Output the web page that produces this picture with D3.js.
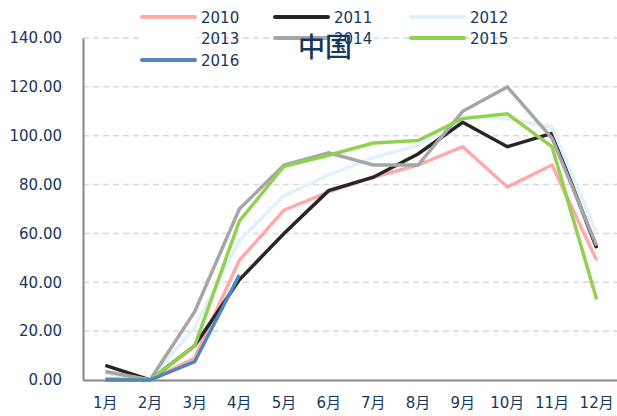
<!DOCTYPE html>
<html>
<head>
<meta charset="utf-8">
<script src="https://cdn.jsdelivr.net/npm/d3@7.9.0/dist/d3.min.js"></script>
<style>
  body { margin: 0; background: #fff; }
  text { font-family: "DejaVu Sans", "Noto Sans CJK SC", sans-serif; fill: #17375e; }
</style>
</head>
<body>
<svg id="chart" width="617" height="416"></svg>
<script>
// categories and series
const months = ['1月', '2月', '3月', '4月', '5月', '6月', '7月', '8月', '9月', '10月', '11月', '12月'];
const yTicks = [0, 20, 40, 60, 80, 100, 120, 140];

const s2010 = [3, 0, 9, 49, 69.5, 77, 83, 88, 95.5, 79, 88, 49];
const s2011 = [6, 0, 14, 41, 60, 77.5, 83, 92.5, 105.5, 95.5, 101, 54];
const s2012 = [3, 0, 21.5, 57, 75.5, 84, 91, 96, 108, 107, 103.5, 60];
const s2013 = [];
const s2014 = [3.5, 0, 28, 70, 88, 93, 88, 88, 110, 120, 99, 55];
const s2015 = [0.5, 0, 14, 65, 87.5, 92, 97, 98, 107, 109, 95.5, 33];
const s2016 = [0, 0, 7.5, 43];

const series = [
  { name: '2010', values: s2010, color: '#ffaaaa' },
  { name: '2011', values: s2011, color: '#262626' },
  { name: '2012', values: s2012, color: '#dff1fc' },
  { name: '2013', values: s2013, color: '#ffffff' },
  { name: '2014', values: s2014, color: '#a6a6a6' },
  { name: '2015', values: s2015, color: '#92d050' },
  { name: '2016', values: s2016, color: '#4f86bf' }
];

const svg = d3.select('#chart');
const plotLeft = 83, plotRight = 617, plotTop = 38, plotBottom = 380;

const x = d3.scaleBand().domain(months).range([plotLeft, plotRight + 2]);
const y = d3.scaleLinear().domain([0, 140]).range([plotBottom, plotTop]);

// dashed gridlines
svg.append('g')
  .selectAll('line')
  .data(yTicks.filter(d => d > 0))
  .join('line')
  .attr('x1', plotLeft)
  .attr('x2', plotRight)
  .attr('y1', d => y(d))
  .attr('y2', d => y(d))
  .attr('stroke', '#d9d9d9')
  .attr('stroke-width', 1.5)
  .attr('stroke-dasharray', '6,4');

// axes
const yAxis = svg.append('g')
  .attr('transform', `translate(${plotLeft},0)`)
  .call(d3.axisLeft(y).tickValues(yTicks).tickSize(0).tickPadding(21).tickFormat(d3.format('.2f')));
yAxis.select('.domain').attr('stroke', '#868686').attr('stroke-width', 2);
yAxis.selectAll('text').attr('font-size', 15).attr('fill', '#17375e')
  .attr('font-family', '"DejaVu Sans", sans-serif');

const xAxis = svg.append('g')
  .attr('transform', `translate(0,${plotBottom})`)
  .call(d3.axisBottom(x).tickSize(0).tickPadding(17));
xAxis.select('.domain').attr('stroke', '#868686').attr('stroke-width', 2);
xAxis.selectAll('text').attr('font-size', 15).attr('fill', '#17375e')
  .attr('font-family', '"DejaVu Sans", "Noto Sans CJK SC", sans-serif');

// lines
const line = d3.line()
  .x((d, i) => x(months[i]) + x.bandwidth() / 2)
  .y(d => y(d));

svg.append('g')
  .selectAll('path')
  .data(series)
  .join('path')
  .attr('d', d => d.values.length ? line(d.values) : null)
  .attr('fill', 'none')
  .attr('stroke', d => d.color)
  .attr('stroke-width', 3.5)
  .attr('stroke-linejoin', 'miter');

// legend, three columns
const legendCols = [142, 275, 411];
const legendRows = [17, 38, 60];
const legend = svg.append('g')
  .selectAll('g')
  .data(series)
  .join('g')
  .attr('transform', (d, i) => `translate(${legendCols[i % 3]},${legendRows[Math.floor(i / 3)]})`);

legend.append('line')
  .attr('x1', 0).attr('x2', 53)
  .attr('stroke', d => d.color)
  .attr('stroke-width', 4)
  .attr('stroke-linecap', 'round');

legend.append('text')
  .attr('x', 59)
  .attr('y', 6)
  .attr('font-size', 15)
  .text(d => d.name);

// title, drawn over the legend as in the original
svg.append('text')
  .attr('x', 325)
  .attr('y', 57)
  .attr('text-anchor', 'middle')
  .attr('font-size', 27)
  .attr('font-weight', 500)
  .attr('font-family', '"Noto Sans CJK SC", sans-serif')
  .attr('fill', '#1a3c6e')
  .text('中国');
</script>
</body>
</html>
